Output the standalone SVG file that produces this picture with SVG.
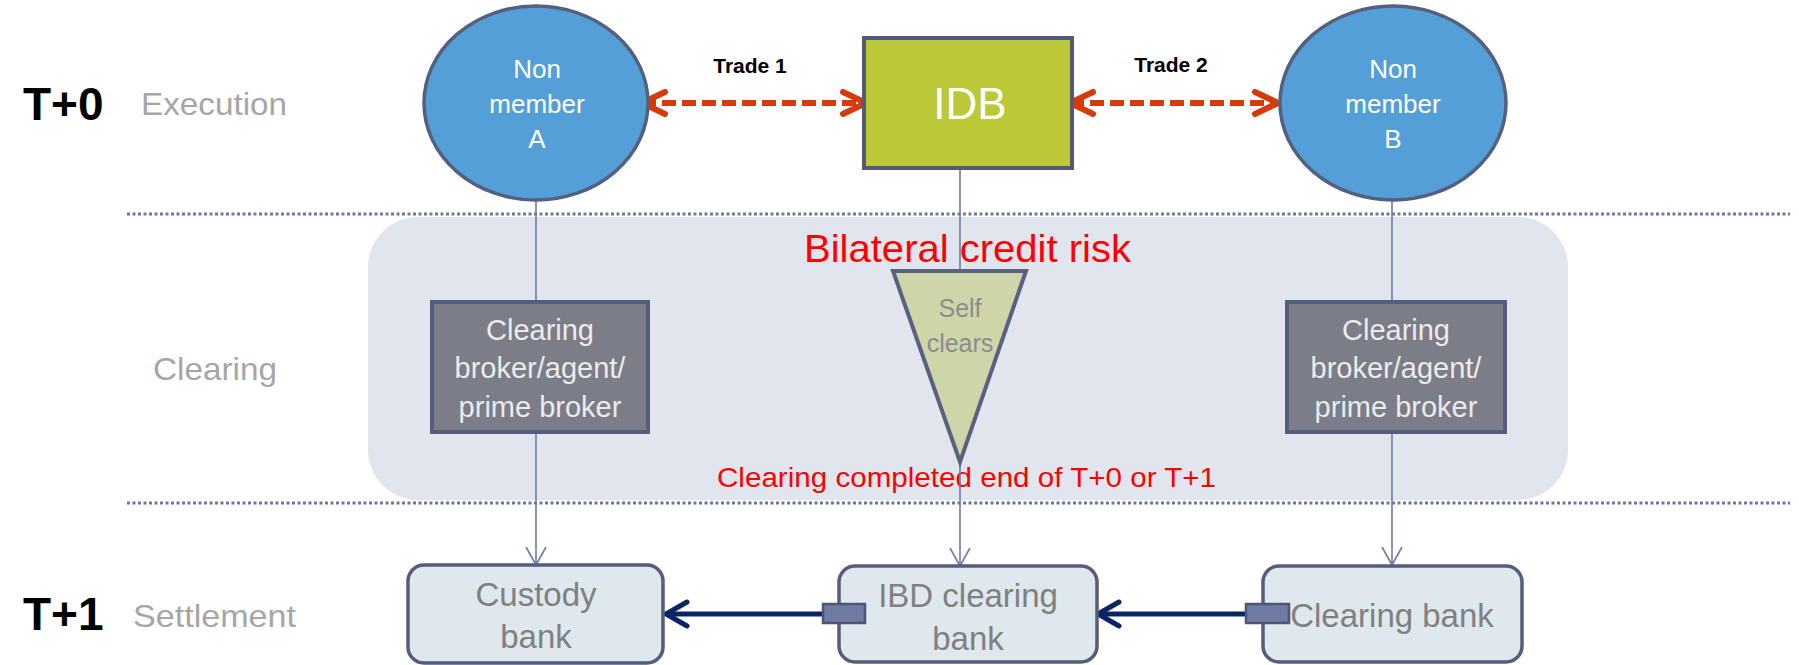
<svg xmlns="http://www.w3.org/2000/svg" width="1799" height="665" viewBox="0 0 1799 665">
<style>
text{font-family:"Liberation Sans",Arial,sans-serif}
.row{font-weight:bold;fill:#000;font-size:46px}
.phase{fill:#a6a6a6;font-size:32px}
.ell{fill:#549fd8;stroke:#55607f;stroke-width:3.5}
.wt{fill:#fff;font-size:26px;text-anchor:middle}
.trade{font-weight:bold;fill:#000;font-size:21px;text-anchor:middle}
.cbox{fill:#7b7d88;stroke:#555c7e;stroke-width:4}
.ctext{fill:#ebebeb;font-size:29px;text-anchor:middle}
.sbox{fill:#dfe8ed;stroke:#555c7c;stroke-width:3.5}
.stext{fill:#808080;font-size:33px;text-anchor:middle}
.red{fill:#ff0000}
.dot{stroke:#6b76a3;stroke-width:3;stroke-dasharray:3 2.5;fill:none}
.thin{stroke:#6f7aa5;stroke-width:1.6;fill:none}
.trade-line{stroke:#d43a0a;stroke-width:6;stroke-dasharray:14 6;fill:none}
.navy{stroke:#0b2462;stroke-width:5;fill:none}
.port{fill:#707ba3;stroke:#4e5677;stroke-width:2.5}
</style>
<defs>
<marker id="redhead" markerUnits="userSpaceOnUse" markerWidth="40" markerHeight="40" refX="0" refY="0" viewBox="-30 -20 40 40" orient="auto-start-reverse" overflow="visible">
<path d="M-23,-11 L0,0 L-23,11" fill="none" stroke="#d43a0a" stroke-width="6" stroke-linecap="round" stroke-linejoin="miter"/>
</marker>
<marker id="navyhead" markerUnits="userSpaceOnUse" markerWidth="40" markerHeight="40" refX="0" refY="0" viewBox="-30 -20 40 40" orient="auto" overflow="visible">
<path d="M-21,-12 L0,0 L-21,12" fill="none" stroke="#0b2462" stroke-width="5" stroke-linecap="round" stroke-linejoin="miter"/>
</marker>
<marker id="thinhead" markerUnits="userSpaceOnUse" markerWidth="40" markerHeight="40" refX="0" refY="0" viewBox="-30 -20 40 40" orient="auto" overflow="visible">
<path d="M-18,-10 L0,0 L-18,10" fill="none" stroke="#6f7aa5" stroke-width="1.6"/>
</marker>
</defs>
<rect width="1799" height="665" fill="#fff"/>

<g id="clearing-band">
<rect x="368" y="217" width="1200" height="283" rx="50" ry="50" fill="#e1e5ee"/>
</g>
<g id="dividers">
<line class="dot" x1="127" y1="214" x2="1790" y2="214"/>
<line class="dot" x1="127" y1="503" x2="1790" y2="503"/>
</g>

<g id="row-labels">
<text class="row" x="23" y="120">T+0</text>
<text class="phase" x="141" y="115" textLength="146" lengthAdjust="spacingAndGlyphs">Execution</text>
<text class="phase" x="153" y="380" textLength="124" lengthAdjust="spacingAndGlyphs">Clearing</text>
<text class="row" x="23" y="630">T+1</text>
<text class="phase" x="133" y="627" textLength="163" lengthAdjust="spacingAndGlyphs">Settlement</text>
</g>

<g id="bilateral-label">
<text class="red" x="804" y="262" font-size="39" textLength="327" lengthAdjust="spacingAndGlyphs">Bilateral credit risk</text>
</g>
<g id="clearing-completed-label">
<text class="red" x="717" y="487" font-size="28" textLength="499" lengthAdjust="spacingAndGlyphs">Clearing completed end of T+0 or T+1</text>
</g>

<g id="connectors">
<line class="thin" x1="536" y1="200" x2="536" y2="565" marker-end="url(#thinhead)"/>
<line class="thin" x1="960" y1="168" x2="960" y2="566" marker-end="url(#thinhead)"/>
<line class="thin" x1="1392" y1="200" x2="1392" y2="565" marker-end="url(#thinhead)"/>
<line class="trade-line" x1="642" y1="103" x2="866" y2="103" marker-start="url(#redhead)" marker-end="url(#redhead)"/>
<line class="trade-line" x1="1070" y1="103" x2="1278" y2="103" marker-start="url(#redhead)" marker-end="url(#redhead)"/>
<line class="navy" x1="823" y1="614" x2="666" y2="614" marker-end="url(#navyhead)"/>
<line class="navy" x1="1246" y1="614" x2="1098" y2="614" marker-end="url(#navyhead)"/>
<text class="trade" x="750" y="73">Trade 1</text>
<text class="trade" x="1171" y="72">Trade 2</text>
</g>

<g id="non-member-a">
<ellipse class="ell" cx="536" cy="103" rx="112" ry="97"/>
<text class="wt" x="537" y="78">Non</text>
<text class="wt" x="537" y="113">member</text>
<text class="wt" x="537" y="148">A</text>
</g>

<g id="idb">
<rect x="864" y="38" width="208" height="130" fill="#bcc837" stroke="#535a78" stroke-width="4"/>
<text x="970" y="119" fill="#fff" font-size="44" text-anchor="middle">IDB</text>
</g>

<g id="non-member-b">
<ellipse class="ell" cx="1393" cy="103" rx="113" ry="97"/>
<text class="wt" x="1393" y="78">Non</text>
<text class="wt" x="1393" y="113">member</text>
<text class="wt" x="1393" y="148">B</text>
</g>

<g id="clearing-broker-a">
<rect class="cbox" x="432" y="302" width="216" height="130"/>
<text class="ctext" x="540" y="340">Clearing</text>
<text class="ctext" x="540" y="378">broker/agent/</text>
<text class="ctext" x="540" y="417">prime broker</text>
</g>

<g id="self-clears">
<polygon points="893,271 1026,271 960,462" fill="#ced5a9" stroke="#5a6180" stroke-width="4" stroke-linejoin="miter"/>
<text x="960" y="317" fill="#8c8c8c" font-size="25" text-anchor="middle">Self</text>
<text x="960" y="352" fill="#8c8c8c" font-size="25" text-anchor="middle">clears</text>
</g>

<g id="clearing-broker-b">
<rect class="cbox" x="1287" y="302" width="218" height="130"/>
<text class="ctext" x="1396" y="340">Clearing</text>
<text class="ctext" x="1396" y="378">broker/agent/</text>
<text class="ctext" x="1396" y="417">prime broker</text>
</g>

<g id="custody-bank">
<rect class="sbox" x="408" y="565" width="255" height="98" rx="16" ry="16"/>
<text class="stext" x="536" y="606">Custody</text>
<text class="stext" x="536" y="648">bank</text>
</g>

<g id="ibd-clearing-bank">
<rect class="sbox" x="839" y="566" width="258" height="96" rx="16" ry="16"/>
<text class="stext" x="968" y="607">IBD clearing</text>
<text class="stext" x="968" y="650">bank</text>
<rect class="port" x="823" y="604" width="42" height="19"/>
</g>

<g id="clearing-bank">
<rect class="sbox" x="1263" y="566" width="259" height="96" rx="16" ry="16"/>
<text class="stext" x="1392" y="627">Clearing bank</text>
<rect class="port" x="1246" y="604" width="43" height="19"/>
</g>
</svg>
